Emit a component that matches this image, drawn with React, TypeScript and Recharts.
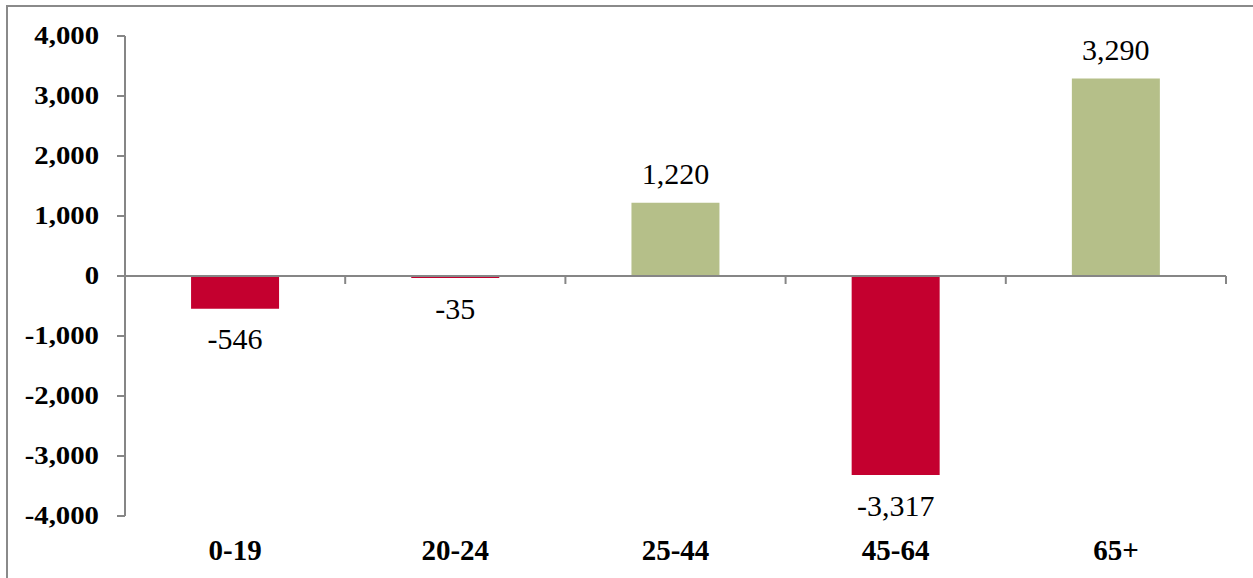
import React from "react";
import { BarChart, Bar, XAxis, YAxis, ReferenceLine, Cell, LabelList } from "recharts";

const categories = ["0-19", "20-24", "25-44", "45-64", "65+"];
const values = [-546, -35, 1220, -3317, 3290];
const yTicks = [-4000, -3000, -2000, -1000, 0, 1000, 2000, 3000, 4000];

const data = categories.map((c, i) => ({ name: c, value: values[i] }));

const RED = "#C4002F";
const GREEN = "#B5BF89";
const AXIS = "#868686";
const FONT = "Liberation Serif";

const fmt = (v: number) => v.toLocaleString("en-US");

const CatTick = (props: any) => {
  const { x, y, payload } = props;
  return (
    <text x={x} y={y + 26} textAnchor="middle" dominantBaseline="central" style={{ fontFamily: FONT, fontWeight: "bold", fontSize: 29 }} fill="#000">
      {payload.value}
    </text>
  );
};

const YTick = (props: any) => {
  const { x, y, payload } = props;
  return (
    <text transform={`translate(${x},${y}) scale(1.15,1)`} x={0} y={0} textAnchor="end" dominantBaseline="central" style={{ fontFamily: FONT, fontWeight: "bold", fontSize: 25 }} fill="#000">
      {fmt(payload.value)}
    </text>
  );
};

const ValLabel = (props: any) => {
  const { x, y, width, height, value } = props;
  const cx = x + width / 2;
  let ty: number;
  if (value >= 0) {
    const top = Math.min(y, y + height);
    ty = top - 29;
  } else {
    const bottom = Math.max(y, y + height);
    ty = bottom + 30;
  }
  return (
    <text x={cx} y={ty} textAnchor="middle" dominantBaseline="central" style={{ fontFamily: FONT, fontSize: 30 }} fill="#000">
      {fmt(value)}
    </text>
  );
};

export default function App() {
  return (
    <div style={{ position: "absolute", left: 0, top: 0, width: 1253, height: 578, background: "#fff", overflow: "hidden" }}>
      <div style={{ position: "absolute", left: 6, top: 5, width: 1300, height: 700, borderLeft: "2px solid #8a8a8a", borderTop: "2px solid #8a8a8a" }} />
      <div style={{ position: "absolute", left: 0, top: 0 }}>
        <BarChart width={1253} height={578} data={data} margin={{ top: 36, right: 27, bottom: 0, left: 0 }} barCategoryGap="30%">
          <XAxis dataKey="name" axisLine={false} tickLine={false} height={62} tick={<CatTick />} interval={0} />
          <YAxis
            width={125}
            domain={[-4000, 4000]}
            ticks={yTicks}
            interval={0}
            allowDataOverflow
            axisLine={{ stroke: AXIS, strokeWidth: 2 }}
            tickLine={{ stroke: AXIS, strokeWidth: 2 }}
            tickSize={8}
            tickMargin={18}
            tick={<YTick />}
          />
          <ReferenceLine y={0} stroke={AXIS} strokeWidth={2} />
          {categories.map((c) => (
            <ReferenceLine
              key={c}
              position="end"
              segment={[{ x: c, y: 0 }, { x: c, y: -133 }]}
              stroke={AXIS}
              strokeWidth={2}
              ifOverflow="visible"
            />
          ))}
          <Bar dataKey="value" isAnimationActive={false}>
            {data.map((d, i) => (
              <Cell key={i} fill={d.value < 0 ? RED : GREEN} />
            ))}
            <LabelList dataKey="value" content={<ValLabel />} />
          </Bar>
        </BarChart>
      </div>
    </div>
  );
}
